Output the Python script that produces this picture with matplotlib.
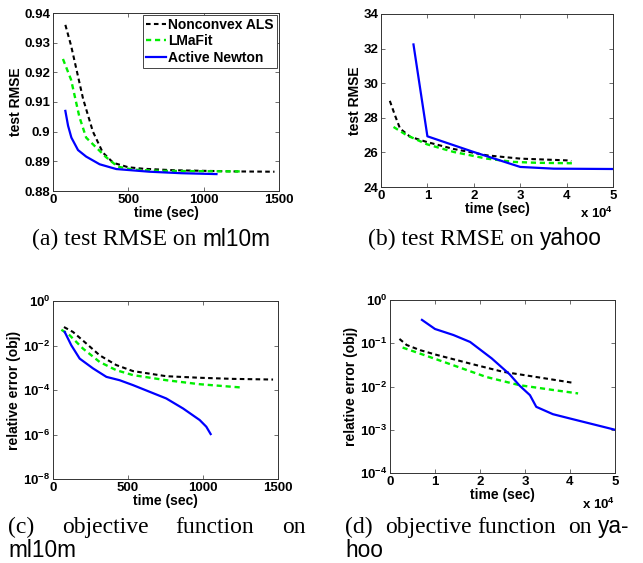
import numpy as np
import matplotlib
matplotlib.use('Agg')
import matplotlib.pyplot as plt
from matplotlib.ticker import FixedLocator, NullLocator

plt.rcParams['font.family'] = 'Liberation Sans'
plt.rcParams['font.weight'] = 'bold'
plt.rcParams['mathtext.fontset'] = 'custom'
plt.rcParams['mathtext.rm'] = 'Liberation Sans:bold'
plt.rcParams['mathtext.bf'] = 'Liberation Sans:bold'
plt.rcParams['mathtext.default'] = 'bf'

# ---- (a) test RMSE on ml10m ----
a_als_t = [82, 120, 160, 200, 265, 330, 400, 500, 600, 800, 1000, 1200, 1470]
a_als_y = [0.936, 0.929, 0.920, 0.911, 0.900, 0.893, 0.8895, 0.888, 0.8875, 0.887, 0.8868, 0.8866, 0.8865]
a_lma_t = [66, 120, 175, 220, 280, 350, 430, 530, 700, 900, 1250]
a_lma_y = [0.9245, 0.9175, 0.905, 0.898, 0.895, 0.8915, 0.8882, 0.8872, 0.8868, 0.8867, 0.8866]
a_new_t = [82, 100, 122, 166, 220, 310, 420, 640, 850, 1085]
a_new_y = [0.907, 0.902, 0.898, 0.8938, 0.8916, 0.889, 0.8874, 0.8865, 0.886, 0.8857]

# ---- (b) test RMSE on yahoo (time in 1e4 sec) ----
b_als_t = [0.19, 0.30, 0.41, 0.63, 0.99, 1.56, 2.28, 3.0, 4.0, 4.1]
b_als_y = [28.98, 28.15, 27.38, 26.9, 26.6, 26.2, 25.83, 25.64, 25.54, 25.5]
b_lma_t = [0.27, 0.55, 0.99, 1.56, 2.28, 2.86, 3.36, 4.19]
b_lma_y = [27.47, 27.0, 26.47, 26.03, 25.64, 25.45, 25.4, 25.37]
b_new_t = [0.70, 1.0, 1.99, 3.0, 3.72, 5.0]
b_new_y = [32.24, 26.93, 26.03, 25.16, 25.06, 25.04]

# ---- (c) objective function on ml10m (log10 relative error) ----
c_als_t = [73, 133, 222, 311, 422, 533, 755, 978, 1200, 1467]
c_als_y = [-1.17, -1.39, -1.91, -2.44, -2.88, -3.15, -3.38, -3.45, -3.50, -3.53]
c_lma_t = [56, 111, 200, 311, 422, 533, 755, 978, 1260]
c_lma_y = [-1.29, -1.54, -2.14, -2.74, -3.11, -3.33, -3.56, -3.74, -3.89]
c_new_t = [78, 122, 178, 267, 356, 444, 533, 644, 755, 867, 978, 1022, 1051]
c_new_y = [-1.39, -1.99, -2.59, -3.03, -3.41, -3.56, -3.78, -4.08, -4.38, -4.83, -5.35, -5.65, -5.98]

# ---- (d) objective function on yahoo ----
d_als_t = [0.21, 0.37, 0.67, 1.04, 1.78, 2.51, 3.25, 4.10]
d_als_y = [-0.90, -1.04, -1.16, -1.27, -1.47, -1.66, -1.78, -1.92]
d_lma_t = [0.28, 0.67, 1.41, 2.14, 2.88, 3.62, 4.18]
d_lma_y = [-1.10, -1.24, -1.51, -1.78, -1.97, -2.08, -2.16]
d_new_t = [0.71, 1.0, 1.41, 1.78, 2.26, 2.66, 2.88, 3.11, 3.25, 3.62, 4.0, 5.0]
d_new_y = [-0.46, -0.67, -0.81, -0.97, -1.35, -1.72, -1.98, -2.20, -2.47, -2.64, -2.74, -3.0]

labels = ['Nonconvex ALS', 'LMaFit', 'Active Newton']

W, H = 643, 563
fig = plt.figure(figsize=(W / 100, H / 100), dpi=100)

TICK = 9.5
LAB = 10


def add_ax(l, r, t, b):
    ax = fig.add_axes([l / W, 1 - b / H, (r - l) / W, (b - t) / H])
    for s in ax.spines.values():
        s.set_linewidth(0.7)
        s.set_color('#333333')
    ax.tick_params(direction='in', top=True, right=True, length=3, width=0.6,
                   labelsize=TICK, pad=2, color='#555555')
    return ax


def draw(ax, data, log=False):
    styles = [dict(color='black', ls=(0, (2.2, 1.6)), lw=1.5),
              dict(color='#00ee00', ls=(0, (2.2, 1.6)), lw=1.7),
              dict(color='#0000ff', ls='-', lw=1.6)]
    for (t, y), st, lab in zip(data, styles, labels):
        y = np.array(y)
        if log:
            y = 10.0 ** y
        ax.plot(t, y, label=lab, **st)


# (a)
ax = add_ax(53, 279, 13, 191)
draw(ax, [(a_als_t, a_als_y), (a_lma_t, a_lma_y), (a_new_t, a_new_y)])
ax.set_xlim(0, 1500)
ax.set_ylim(0.88, 0.94)
ax.set_xticks([0, 500, 1000, 1500])
ax.set_yticks([0.88, 0.89, 0.90, 0.91, 0.92, 0.93, 0.94])
ax.set_yticklabels(['0.88', '0.89', '0.9', '0.91', '0.92', '0.93', '0.94'], fontweight='bold')
ax.set_xticklabels(['0', '500', '1000', '1500'], fontweight='bold')
ax.set_xlabel('time (sec)', fontsize=LAB, fontweight='bold', labelpad=0)
ax.set_ylabel('test RMSE', fontsize=LAB, fontweight='bold', labelpad=1)
leg = ax.legend(loc='upper right', bbox_to_anchor=(0.99, 0.99), fontsize=10,
                handlelength=1.4, handletextpad=0.2, labelspacing=0.2,
                borderpad=0.2, borderaxespad=0, fancybox=False,
                edgecolor='#444444', framealpha=1)
leg.get_frame().set_linewidth(0.7)
for tx in leg.get_texts():
    tx.set_fontweight('bold')

# (b)
ax = add_ax(381, 613, 14, 187)
draw(ax, [(b_als_t, b_als_y), (b_lma_t, b_lma_y), (b_new_t, b_new_y)])
ax.set_xlim(0, 5)
ax.set_ylim(24, 34)
ax.set_xticks([0, 1, 2, 3, 4, 5])
ax.set_yticks([24, 26, 28, 30, 32, 34])
ax.set_xticklabels(['0', '1', '2', '3', '4', '5'], fontweight='bold')
ax.set_yticklabels(['24', '26', '28', '30', '32', '34'], fontweight='bold')
ax.set_xlabel('time (sec)', fontsize=LAB, fontweight='bold', labelpad=0)
ax.set_ylabel('test RMSE', fontsize=LAB, fontweight='bold', labelpad=1)
ax.text(1.0, -0.15, r'x 10$^{4}$', transform=ax.transAxes, ha='right', va='center',
        fontsize=TICK, fontweight='bold')

# (c)
ax = add_ax(53, 278, 301, 479)
draw(ax, [(c_als_t, c_als_y), (c_lma_t, c_lma_y), (c_new_t, c_new_y)], log=True)
ax.set_yscale('log')
ax.set_xlim(0, 1500)
ax.set_ylim(1e-8, 1e0)
ax.set_xticks([0, 500, 1000, 1500])
ax.set_xticklabels(['0', '500', '1000', '1500'], fontweight='bold')
ax.yaxis.set_major_locator(FixedLocator([1e-8, 1e-6, 1e-4, 1e-2, 1e0]))
ax.yaxis.set_minor_locator(NullLocator())
ax.set_yticklabels([r'$10^{-8}$', r'$10^{-6}$', r'$10^{-4}$', r'$10^{-2}$', r'$10^{0}$'])
ax.set_xlabel('time (sec)', fontsize=LAB, fontweight='bold', labelpad=0)
ax.set_ylabel('relative error (obj)', fontsize=LAB, fontweight='bold', labelpad=1)

# (d)
ax = add_ax(390, 615, 300, 473)
draw(ax, [(d_als_t, d_als_y), (d_lma_t, d_lma_y), (d_new_t, d_new_y)], log=True)
ax.set_yscale('log')
ax.set_xlim(0, 5)
ax.set_ylim(1e-4, 1e0)
ax.set_xticks([0, 1, 2, 3, 4, 5])
ax.set_xticklabels(['0', '1', '2', '3', '4', '5'], fontweight='bold')
ax.yaxis.set_major_locator(FixedLocator([1e-4, 1e-3, 1e-2, 1e-1, 1e0]))
ax.yaxis.set_minor_locator(NullLocator())
ax.set_yticklabels([r'$10^{-4}$', r'$10^{-3}$', r'$10^{-2}$', r'$10^{-1}$', r'$10^{0}$'])
ax.set_xlabel('time (sec)', fontsize=LAB, fontweight='bold', labelpad=0)
ax.set_ylabel('relative error (obj)', fontsize=LAB, fontweight='bold', labelpad=1)
ax.text(1.0, -0.18, r'x 10$^{4}$', transform=ax.transAxes, ha='right', va='center',
        fontsize=TICK, fontweight='bold')


# captions
renderer = fig.canvas.get_renderer()


def cap(x, y, s, sans=False, va='center'):
    return fig.text(x / W, 1 - y / H, s, ha='left', va=va,
                    fontsize=16.3 if sans else 17, fontweight='normal',
                    family='Liberation Sans' if sans else 'Liberation Serif')


def cap_pair(x, y, serif_part, sans_part):
    t = cap(x, y, serif_part)
    ext = t.get_window_extent(renderer)
    cap(ext.x1 + 6, y, sans_part, sans=True)


cap_pair(32, 239, '(a) test RMSE on', 'ml10m')
cap_pair(368, 239, '(b) test RMSE on', 'yahoo')

B1, B2 = 533, 557
cap(8, B1, '(c)', va='baseline')
cap(62, B1, 'objective', va='baseline')
cap(175, B1, 'function', va='baseline')
cap(282, B1, 'on', va='baseline')
cap(8, B2, 'ml10m', sans=True, va='baseline')

cap(345, B1, '(d)', va='baseline')
cap(385, B1, 'objective', va='baseline')
cap(477, B1, 'function', va='baseline')
cap(568, B1, 'on', va='baseline')
cap(598, B1, 'ya-', sans=True, va='baseline')
cap(345, B2, 'hoo', sans=True, va='baseline')

fig.savefig('out.png', dpi=100)
